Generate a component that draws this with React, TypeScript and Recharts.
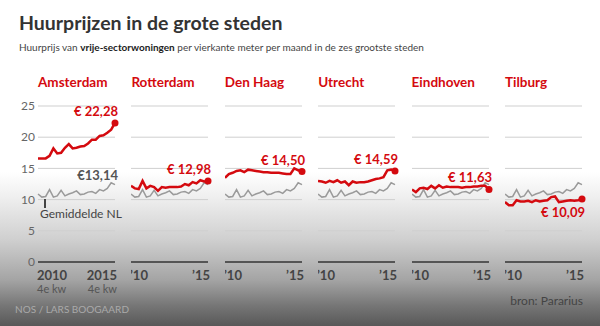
import React from 'react';
import { LineChart, Line, XAxis, YAxis, CartesianGrid } from 'recharts';

// kwartalen 2010 4e kw t/m 2015 4e kw
const quarters = [
  '2010-4', '2011-1', '2011-2', '2011-3', '2011-4', '2012-1', '2012-2', '2012-3', '2012-4',
  '2013-1', '2013-2', '2013-3', '2013-4', '2014-1', '2014-2', '2014-3', '2014-4',
  '2015-1', '2015-2', '2015-3', '2015-4',
];

const gemiddeldeNL = [10.9, 10.4, 10.5, 11.6, 10.4, 10.6, 11.5, 10.6, 10.9, 11.1, 11.4, 10.8, 10.9, 11.2, 11.3, 11.0, 11.6, 11.4, 11.8, 12.7, 12.4];

const amsterdam = [16.6, 16.6, 16.6, 17.0, 18.2, 17.4, 17.5, 18.3, 18.9, 18.2, 18.3, 18.5, 18.6, 19.0, 19.6, 19.6, 20.2, 20.3, 20.7, 21.2, 22.28];
const rotterdam = [12.2, 11.8, 11.7, 13.0, 11.8, 12.2, 12.0, 11.4, 12.0, 11.9, 12.0, 12.0, 12.0, 12.1, 12.5, 12.3, 12.8, 12.6, 13.1, 12.9, 12.98];
const denHaag = [13.5, 14.1, 14.3, 14.6, 14.7, 14.4, 14.8, 14.7, 14.6, 14.5, 14.4, 14.4, 14.3, 14.3, 14.3, 14.2, 14.1, 14.1, 15.0, 14.7, 14.5];
const utrecht = [13.0, 12.9, 12.7, 13.0, 12.8, 13.1, 12.7, 12.9, 12.3, 12.9, 12.7, 12.8, 12.8, 12.9, 13.1, 13.3, 13.4, 13.6, 14.7, 14.8, 14.59];
const eindhoven = [11.6, 11.2, 11.8, 11.9, 11.7, 12.2, 11.8, 12.3, 11.9, 12.1, 12.0, 12.0, 12.0, 11.9, 12.0, 12.0, 12.1, 12.1, 12.2, 12.2, 11.63];
const tilburg = [9.6, 9.1, 9.1, 9.9, 9.7, 9.7, 9.8, 9.6, 9.9, 9.7, 9.8, 9.9, 10.4, 10.5, 9.6, 9.7, 9.8, 9.9, 9.8, 9.9, 10.09];

const cities = ['Amsterdam', 'Rotterdam', 'Den Haag', 'Utrecht', 'Eindhoven', 'Tilburg'];
const cityValues = [amsterdam, rotterdam, denHaag, utrecht, eindhoven, tilburg];
const endLabels = ['€ 22,28', '€ 12,98', '€ 14,50', '€ 14,59', '€ 11,63', '€ 10,09'];
const nlLabel = '€13,14';

const yTicks = [0, 5, 10, 15, 20, 25];

const RED = '#d40a0f';
const GREY = '#9a9a9a';
const FONT = 'Lato, "Open Sans", sans-serif';

const PLOT_W = 77;
const PANEL_STEP = 93.4;
const FIRST_X = 38;
const Y_AXIS_W = 30;

function XTick(props: any) {
  const { x, y, payload, full } = props;
  const first = payload.value === 0;
  const anchor = first ? 'start' : 'end';
  const tx = first ? x - 1 : x + 2;
  const year = first ? 2010 : 2015;
  if (full) {
    return (
      <g>
        <text x={tx} y={y + 10} textAnchor={anchor} fontSize={13} fontWeight={700} fill="#444" fontFamily={FONT}>{year}</text>
        <text x={tx} y={y + 23} textAnchor={anchor} fontSize={11} fill="#555" fontFamily={FONT}>4e kw</text>
      </g>
    );
  }
  return (
    <text x={tx} y={y + 10} textAnchor={anchor} fontSize={13} fontWeight={700} fill="#444" fontFamily={FONT}>
      {'\u2019' + String(year).slice(2)}
    </text>
  );
}

function Panel({ idx }: { idx: number }) {
  const values = cityValues[idx];
  const data = quarters.map((q, i) => ({ i, q, city: values[i], nl: gemiddeldeNL[i] }));
  const withAxis = idx === 0;
  const plotX = FIRST_X + idx * PANEL_STEP;
  const left = withAxis ? plotX - Y_AXIS_W : plotX;
  const width = (withAxis ? Y_AXIS_W : 0) + PLOT_W + 8;
  const last = values.length - 1;
  const below = idx === 5;

  const cityLabel = (p: any) => {
    if (p.index !== last) return null;
    return (
      <text
        x={p.x + 3}
        y={below ? p.y + 18 : p.y - 7}
        textAnchor="end"
        fontSize={13}
        fontWeight={700}
        fill={RED}
        fontFamily={FONT}
      >
        {endLabels[idx]}
      </text>
    );
  };

  const nlLabelFn = (p: any) => {
    if (!withAxis || p.index !== last) return null;
    return (
      <text x={p.x + 3} y={p.y - 5} textAnchor="end" fontSize={13} fontWeight={700} fill="#555" fontFamily={FONT}>
        {nlLabel}
      </text>
    );
  };

  const endDot = (p: any) => {
    if (p.index !== last) return <g key={p.index} />;
    return <circle key={p.index} cx={p.cx} cy={p.cy} r={3.5} fill={RED} />;
  };

  return (
    <div style={{ position: 'absolute', left, top: 96 }}>
      <LineChart width={width} height={212} data={data} margin={{ top: 10, right: 8, bottom: 0, left: 0 }}>
        <CartesianGrid vertical={false} stroke="#cfcfcf" strokeWidth={1} />
        <XAxis
          dataKey="i"
          type="number"
          domain={[0, 20]}
          ticks={[0, 20]}
          interval={0}
          height={46}
          tickLine={false}
          axisLine={{ stroke: '#555', strokeWidth: 2 }}
          tick={<XTick full={withAxis} />}
        />
        <YAxis
          hide={!withAxis}
          width={Y_AXIS_W}
          domain={[0, 25]}
          ticks={yTicks}
          axisLine={false}
          tickLine={false}
          tickSize={0}
          tickMargin={3}
          tick={{ fontSize: 12, fill: '#666', fontFamily: FONT }}
        />
        <Line
          type="linear"
          dataKey="nl"
          stroke={GREY}
          strokeWidth={1.5}
          dot={false}
          label={nlLabelFn}
          isAnimationActive={false}
        />
        <Line
          type="linear"
          dataKey="city"
          stroke={RED}
          strokeWidth={2.5}
          dot={endDot}
          label={cityLabel}
          isAnimationActive={false}
        />
      </LineChart>
      <div
        style={{
          position: 'absolute',
          left: withAxis ? Y_AXIS_W : 0,
          top: -22,
          color: RED,
          fontWeight: 700,
          fontSize: 13.5,
          fontFamily: FONT,
          whiteSpace: 'nowrap',
        }}
      >
        {cities[idx]}
      </div>
    </div>
  );
}

export default function App() {
  return (
    <div
      style={{
        position: 'relative',
        width: 600,
        height: 326,
        overflow: 'hidden',
        fontFamily: FONT,
        background:
          'linear-gradient(to bottom, #ffffff 0px, #ffffff 172px, #ededed 200px, #cfcfcf 240px, #a4a4a4 280px, #777777 305px, #585858 326px)',
      }}
    >
      <style>{'body{margin:0}'}</style>
      <div style={{ position: 'absolute', left: 19, top: 11, fontSize: 19.5, fontWeight: 700, color: '#333', whiteSpace: 'nowrap' }}>
        Huurprijzen in de grote steden
      </div>
      <div style={{ position: 'absolute', left: 19, top: 41, fontSize: 10, color: '#444', whiteSpace: 'nowrap' }}>
        Huurprijs van <b style={{ color: '#222' }}>vrije-sectorwoningen</b> per vierkante meter per maand in de zes grootste steden
      </div>

      {cities.map((c, i) => (
        <Panel key={c} idx={i} />
      ))}

      {/* annotatie gemiddelde */}
      <div style={{ position: 'absolute', left: 44, top: 199, width: 1.5, height: 9, background: '#444' }} />
      <div style={{ position: 'absolute', left: 40, top: 206, fontSize: 12, color: '#444', whiteSpace: 'nowrap' }}>
        Gemiddelde NL
      </div>

      <div style={{ position: 'absolute', left: 15, top: 303, fontSize: 10, color: '#aaa', whiteSpace: 'nowrap' }}>
        NOS / LARS BOOGAARD
      </div>
      <div style={{ position: 'absolute', right: 17, top: 293, fontSize: 12, color: '#444', whiteSpace: 'nowrap' }}>
        bron: Pararius
      </div>
    </div>
  );
}
